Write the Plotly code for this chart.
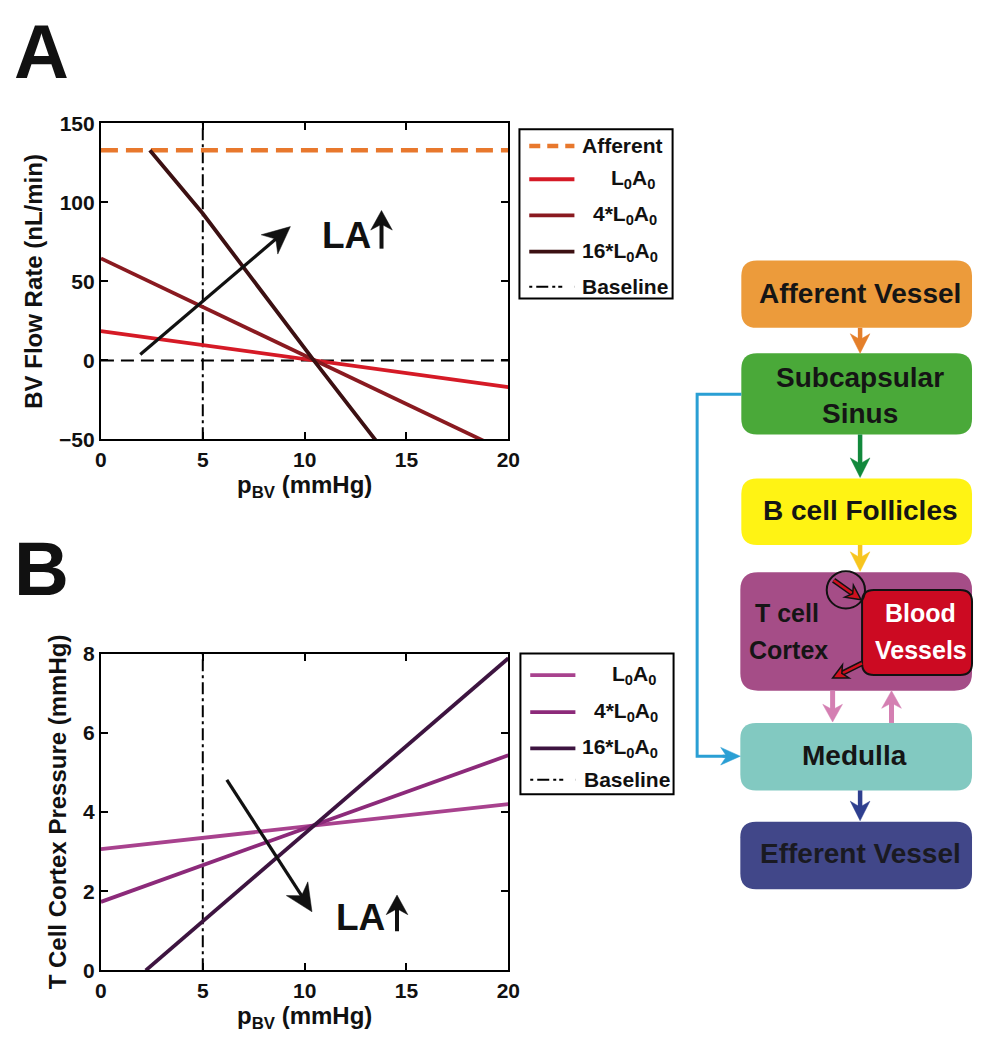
import math
import plotly.graph_objects as go

# ---------------- data ----------------
p_bv = [0, 5, 10, 15, 20]
p_bv_16_A = [2.4, 5, 10.45, 13.5, 20]
p_bv_16_B = [2.2, 5, 10, 15, 20]

afferent_flow = [133, 133, 133, 133, 133]
flow_L0A0 = [18.6, 9.7, 0.8, -8.1, -17.0]
flow_4L0A0 = [64.6, 33.8, 3.1, -27.7, -58.4]
flow_16L0A0 = [133, 93, 0, -50, -159]

pres_L0A0 = [3.06, 3.35, 3.63, 3.92, 4.20]
pres_4L0A0 = [1.73, 2.65, 3.58, 4.50, 5.43]
pres_16L0A0 = [0.0, 1.24, 3.45, 5.66, 7.88]

baseline_p = 5
xticks = [0, 5, 10, 15, 20]
yticks_A = [-50, 0, 50, 100, 150]
yticks_B = [0, 2, 4, 6, 8]

legend_A = ["Afferent", "L<sub>0</sub>A<sub>0</sub>", "4*L<sub>0</sub>A<sub>0</sub>",
            "16*L<sub>0</sub>A<sub>0</sub>", "Baseline"]
legend_B = ["L<sub>0</sub>A<sub>0</sub>", "4*L<sub>0</sub>A<sub>0</sub>",
            "16*L<sub>0</sub>A<sub>0</sub>", "Baseline"]

# LA trend arrows (data coordinates: tail -> head)
la_arrow_A = dict(tail=(1.93, 3.7), head=(9.3, 84.7))
la_arrow_B = dict(tail=(6.18, 4.81), head=(10.36, 1.48))

# ---------------- styles ----------------
W, H = 985, 1042
FONT = "Liberation Sans, Arial, Helvetica, sans-serif"
C_AFF = "#e8782d"
C_A = ["#d51a26", "#8a1a20", "#3c1012"]
C_B = ["#a8428e", "#8c2a7a", "#3d1440"]

# plot areas in pixels
XL, XR = 96.7, 511.7
YA_T, YA_B = 114, 437
YB_T, YB_B = 656, 980
XRANGE = [0, 20]
YRANGE_A = [-50, 150]
YRANGE_B = [0, 8]


def px(x):
    return x / W


def py(y):
    return 1 - y / H


def data_to_px(x, y, yrange, ytop, ybot):
    X = XL + (x - XRANGE[0]) / (XRANGE[1] - XRANGE[0]) * (XR - XL)
    Y = ybot - (y - yrange[0]) / (yrange[1] - yrange[0]) * (ybot - ytop)
    return X, Y


fig = go.Figure()

# panel A traces
fig.add_trace(go.Scatter(x=p_bv, y=afferent_flow, mode="lines", xaxis="x", yaxis="y",
                         line=dict(color=C_AFF, width=4.5, dash="17px,8px"), showlegend=False))
fig.add_trace(go.Scatter(x=p_bv, y=flow_L0A0, mode="lines", xaxis="x", yaxis="y",
                         line=dict(color=C_A[0], width=3.8), showlegend=False))
fig.add_trace(go.Scatter(x=p_bv, y=flow_4L0A0, mode="lines", xaxis="x", yaxis="y",
                         line=dict(color=C_A[1], width=3.8), showlegend=False))
fig.add_trace(go.Scatter(x=p_bv_16_A, y=flow_16L0A0, mode="lines", xaxis="x", yaxis="y",
                         line=dict(color=C_A[2], width=3.8), showlegend=False))

# panel B traces
fig.add_trace(go.Scatter(x=p_bv, y=pres_L0A0, mode="lines", xaxis="x2", yaxis="y2",
                         line=dict(color=C_B[0], width=3.8), showlegend=False))
fig.add_trace(go.Scatter(x=p_bv, y=pres_4L0A0, mode="lines", xaxis="x2", yaxis="y2",
                         line=dict(color=C_B[1], width=3.8), showlegend=False))
fig.add_trace(go.Scatter(x=p_bv_16_B, y=pres_16L0A0, mode="lines", xaxis="x2", yaxis="y2",
                         line=dict(color=C_B[2], width=3.8), showlegend=False))

axis_common = dict(showline=True, linecolor="black", linewidth=2, mirror="ticks",
                   ticks="inside", ticklen=7, tickwidth=2, tickcolor="black",
                   showgrid=False, zeroline=False,
                   tickfont=dict(family=FONT, size=21, color="#111", weight="bold"))
title_font = dict(family=FONT, size=24, color="#111", weight="bold")

xdom = [px(XL), px(XR)]
fig.update_layout(
    width=W, height=H, margin=dict(l=0, r=0, t=0, b=0),
    paper_bgcolor="white", plot_bgcolor="white",
    xaxis=dict(domain=xdom, range=XRANGE, tickvals=xticks, anchor="y",
               title=dict(text="p<sub>BV</sub> (mmHg)", font=title_font, standoff=4), **axis_common),
    yaxis=dict(domain=[py(YA_B), py(YA_T)], range=YRANGE_A, tickvals=yticks_A, anchor="x",
               title=dict(text="BV Flow Rate (nL/min)", font=title_font, standoff=10), **axis_common),
    xaxis2=dict(domain=xdom, range=XRANGE, tickvals=xticks, anchor="y2",
                title=dict(text="p<sub>BV</sub> (mmHg)", font=title_font, standoff=4), **axis_common),
    yaxis2=dict(domain=[py(YB_B), py(YB_T)], range=YRANGE_B, tickvals=yticks_B, anchor="x2",
                title=dict(text="T Cell Cortex Pressure (mmHg)", font=title_font, standoff=10), **axis_common),
)

shapes = []
annots = []

# baseline & zero lines
for xr, yr in (("x", "y domain"), ("x2", "y2 domain")):
    shapes.append(dict(type="line", xref=xr, yref=yr, x0=baseline_p, x1=baseline_p, y0=0, y1=1,
                       line=dict(color="black", width=2, dash="12px,4px,3px,4px"), layer="below"))
shapes.append(dict(type="line", xref="x domain", yref="y", x0=0, x1=1, y0=0, y1=0,
                   line=dict(color="black", width=2, dash="13px,7px"), layer="below"))


def arrow(tx, ty, hx, hy, color, width, hl, hw, outline=None):
    """Arrow drawn as shapes in pixel coordinates (tail -> head)."""
    dx, dy = hx - tx, hy - ty
    d = math.hypot(dx, dy)
    ux, uy = dx / d, dy / d
    nx, ny = -uy, ux
    sx, sy = hx - 0.6 * hl * ux, hy - 0.6 * hl * uy
    if outline:
        shapes.append(dict(type="line", xref="paper", yref="paper", x0=px(tx), y0=py(ty),
                           x1=px(sx), y1=py(sy), line=dict(color=outline, width=width + 3), layer="above"))
    shapes.append(dict(type="line", xref="paper", yref="paper", x0=px(tx), y0=py(ty),
                       x1=px(sx), y1=py(sy), line=dict(color=color, width=width), layer="above"))
    bx, by = hx - hl * ux, hy - hl * uy
    p1 = (bx + hw / 2 * nx, by + hw / 2 * ny)
    p2 = (bx - hw / 2 * nx, by - hw / 2 * ny)
    nxp, nyp = hx - 0.7 * hl * ux, hy - 0.7 * hl * uy
    path = (f"M {px(hx)} {py(hy)} L {px(p1[0])} {py(p1[1])} L {px(nxp)} {py(nyp)} "
            f"L {px(p2[0])} {py(p2[1])} Z")
    shapes.append(dict(type="path", xref="paper", yref="paper", path=path, fillcolor=color,
                       line=dict(color=outline or color, width=1.5 if outline else 0.5), layer="above"))


# LA trend arrows
tA = data_to_px(*la_arrow_A["tail"], YRANGE_A, YA_T, YA_B)
hA = data_to_px(*la_arrow_A["head"], YRANGE_A, YA_T, YA_B)
arrow(tA[0], tA[1], hA[0], hA[1], "#111", 3.2, 28, 26)
tB = data_to_px(*la_arrow_B["tail"], YRANGE_B, YB_T, YB_B)
hB = data_to_px(*la_arrow_B["head"], YRANGE_B, YB_T, YB_B)
arrow(tB[0], tB[1], hB[0], hB[1], "#111", 3.2, 28, 26)

la_font = dict(family=FONT, size=37, color="#111", weight="bold")
annots.append(dict(xref="paper", yref="paper", x=px(347), y=py(229), xanchor="center", yanchor="middle",
                   text="LA", showarrow=False, font=la_font))
annots.append(dict(xref="paper", yref="paper", x=px(361), y=py(926), xanchor="center", yanchor="middle",
                   text="LA", showarrow=False, font=la_font))
arrow(382.5, 242, 382.5, 203, "#111", 4, 20, 22)
arrow(398.3, 940, 398.3, 903, "#111", 4, 20, 22)

# panel letters
for letter, cy in (("A", 40), ("B", 569)):
    annots.append(dict(xref="paper", yref="paper", x=px(36), y=py(cy), xanchor="center", yanchor="middle",
                       text=letter, showarrow=False,
                       font=dict(family=FONT, size=76, color="#111", weight="bold")))

# ---------- custom legends ----------
lf = dict(family=FONT, size=21, color="#111", weight="bold")


def legend_box(x0, y0, x1, y1):
    shapes.append(dict(type="rect", xref="paper", yref="paper", x0=px(x0), x1=px(x1),
                       y0=py(y0), y1=py(y1), line=dict(color="black", width=2),
                       fillcolor="white", layer="above"))


legend_box(523, 120, 679, 293)
styles_A = [(C_AFF, "11px,7px", 4.5), (C_A[0], "solid", 3.8), (C_A[1], "solid", 3.8),
            (C_A[2], "solid", 3.8), ("black", "3px,4px,12px,4px,3px", 2)]
ys_A = [137, 171, 208, 245, 281]
tx_A = [585, 614, 596, 585, 585]
for lab, (col, dsh, wd), yy, tx in zip(legend_A, styles_A, ys_A, tx_A):
    shapes.append(dict(type="line", xref="paper", yref="paper", x0=px(533), x1=px(579),
                       y0=py(yy), y1=py(yy), line=dict(color=col, width=wd, dash=dsh), layer="above"))
    annots.append(dict(xref="paper", yref="paper", x=px(tx), y=py(yy), xanchor="left", yanchor="middle",
                       text=lab, showarrow=False, font=lf))

legend_box(524, 656, 680, 800)
styles_B = [(C_B[0], "solid", 3.8), (C_B[1], "solid", 3.8), (C_B[2], "solid", 3.8),
            ("black", "3px,4px,12px,4px,3px", 2)]
ys_B = [678, 716, 753, 785]
tx_B = [615, 597, 585, 587]
for lab, (col, dsh, wd), yy, tx in zip(legend_B, styles_B, ys_B, tx_B):
    shapes.append(dict(type="line", xref="paper", yref="paper", x0=px(534), x1=px(580),
                       y0=py(yy), y1=py(yy), line=dict(color=col, width=wd, dash=dsh), layer="above"))
    annots.append(dict(xref="paper", yref="paper", x=px(tx), y=py(yy), xanchor="left", yanchor="middle",
                       text=lab, showarrow=False, font=lf))

# ---------- flow chart ----------


def rrect(x0, y0, x1, y1, r, fill, line_color=None, lw=0):
    p = (f"M {px(x0 + r)} {py(y0)} L {px(x1 - r)} {py(y0)} Q {px(x1)} {py(y0)} {px(x1)} {py(y0 + r)} "
         f"L {px(x1)} {py(y1 - r)} Q {px(x1)} {py(y1)} {px(x1 - r)} {py(y1)} "
         f"L {px(x0 + r)} {py(y1)} Q {px(x0)} {py(y1)} {px(x0)} {py(y1 - r)} "
         f"L {px(x0)} {py(y0 + r)} Q {px(x0)} {py(y0)} {px(x0 + r)} {py(y0)} Z")
    shapes.append(dict(type="path", xref="paper", yref="paper", path=p, fillcolor=fill,
                       line=dict(color=line_color or fill, width=lw), layer="above"))


def label(text, x, y, size=28, color="#151515"):
    annots.append(dict(xref="paper", yref="paper", x=px(x), y=py(y), xanchor="center", yanchor="middle",
                       text=text, showarrow=False,
                       font=dict(family=FONT, size=size, color=color, weight="bold")))


rrect(749, 254, 984, 323, 16, "#ec9b3b")
rrect(749, 349, 984, 432, 16, "#4aa939")
rrect(749, 477, 984, 545, 16, "#fff314")
rrect(748, 573, 984, 694, 18, "#a54d87")
rrect(872, 591, 984, 678, 12, "#cc0a22", "#111", 2)
rrect(748, 727, 984, 796, 16, "#82c9c1")
rrect(748, 828, 984, 897, 16, "#414789")

label("Afferent Vessel", 870, 288)
label("Subcapsular", 870, 374)
label("Sinus", 870, 411)
label("B cell Follicles", 870, 510)
label("T cell", 796, 615, 25)
label("Cortex", 797, 652, 25)
label("Blood", 932, 615, 25, "white")
label("Vessels", 932, 652, 25, "white")
label("Medulla", 864, 760)
label("Efferent Vessel", 870, 861, 28, "#1a1a22")

arrow(870, 323, 870, 349, "#e47f2a", 4.5, 20, 20)
arrow(870, 432, 870, 476, "#12893c", 4.5, 20, 20)
arrow(870, 545, 870, 572, "#f7c51e", 4.5, 20, 20)
arrow(842, 694, 842, 726, "#d47fb2", 5, 18, 20)
arrow(902, 727, 902, 694, "#d47fb2", 5, 18, 20)
arrow(870, 796, 870, 827, "#2f3f8f", 4.5, 20, 20)

# blue connector
shapes.append(dict(type="path", xref="paper", yref="paper",
                   path=f"M {px(749)} {py(391)} L {px(704)} {py(391)} L {px(704)} {py(761)} L {px(735)} {py(761)}",
                   line=dict(color="#2a9fd4", width=3), layer="above"))
arrow(730, 761, 748, 761, "#2a9fd4", 3, 20, 18)

# circle and red arrows
shapes.append(dict(type="circle", xref="paper", yref="paper", x0=px(836), x1=px(875), y0=py(572),
                   y1=py(610), line=dict(color="#111", width=2), layer="above"))
arrow(843, 581, 871, 601, "#d0101e", 2.5, 15, 15, outline="#111")
arrow(872, 666, 842, 681, "#d0101e", 2.5, 15, 15, outline="#111")

fig.update_layout(shapes=shapes, annotations=annots)
fig.write_html("out.html")
